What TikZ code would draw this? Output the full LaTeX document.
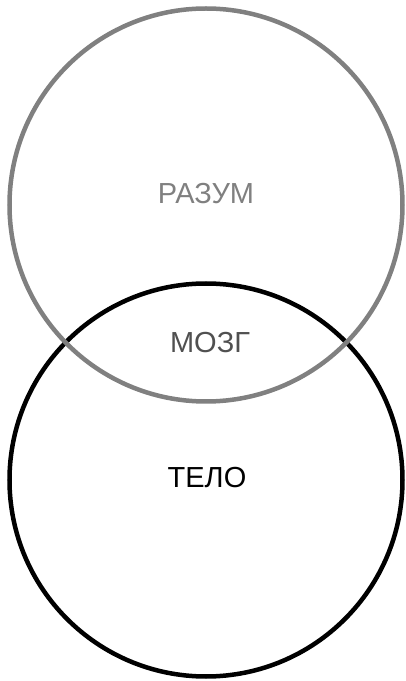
\documentclass[tikz,border=0pt]{standalone}
\usepackage{fontspec}
\setmainfont{Liberation Sans}
\definecolor{ringgray}{HTML}{808080}
\definecolor{textdark}{HTML}{505050}
\tikzset{
  ring/.style={line width=4.5pt},
  label/.style={font=\fontsize{29}{34}\selectfont, anchor=base, inner sep=0pt}
}
\begin{document}
\begin{tikzpicture}[x=1pt,y=1pt]
   \useasboundingbox (0,0) rectangle (405,681);
   % body
   \draw[ring, black] (206,201) circle (196.5);
   % mind
   \draw[ring, ringgray] (206,476) circle (196.5);

   \node[label, text=ringgray] (razum) at (206,477) {РАЗУМ};
   \node[label, text=textdark] (mozg) at (210,328) {МОЗГ};
   \node[label, text=black] (telo) at (207,193) {ТЕЛО};
 \end{tikzpicture}
\end{document}
